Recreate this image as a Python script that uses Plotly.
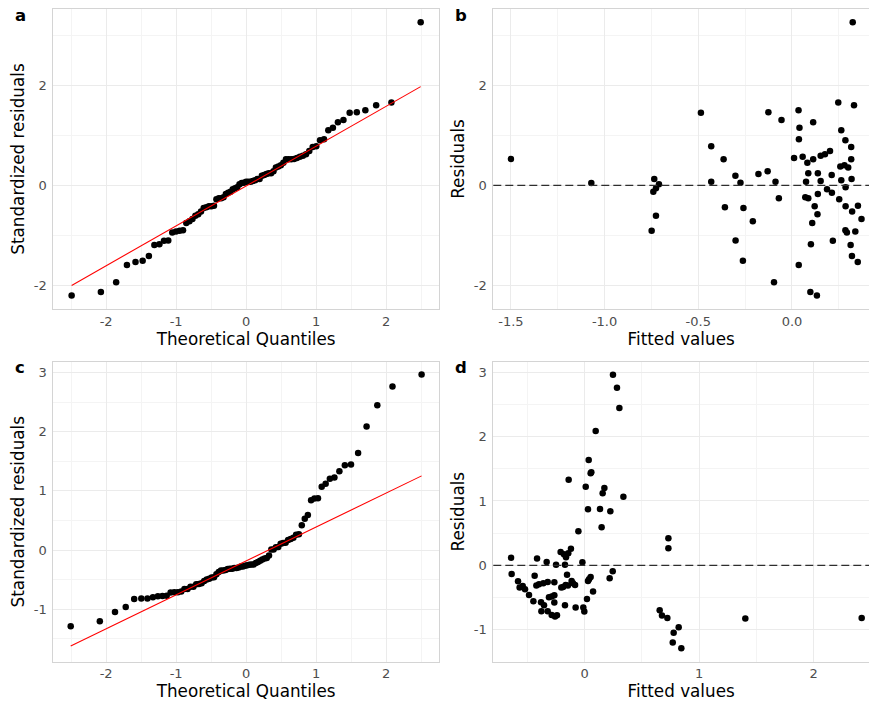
import numpy as np
import plotly.graph_objects as go
from statistics import NormalDist

# ---------------- data ----------------
# Model 1 (panels a & b): fitted values and residuals
fitted_1 = [-1.500, -1.071, -0.735, -0.710, -0.726, -0.740, -0.726, -0.749,
            -0.486, -0.431, -0.431, -0.365, -0.358, -0.302, -0.301, -0.275,
            -0.259, -0.262, -0.209, -0.179, -0.130, -0.126, -0.096, -0.088,
            -0.070, -0.056, 0.011, 0.035, 0.040, 0.037, 0.057, 0.082,
            0.087, 0.075, 0.071, 0.087, 0.036, 0.098, 0.133, 0.101,
            0.108, 0.121, 0.136, 0.138, 0.113, 0.113, 0.138, 0.153,
            0.153, 0.176, 0.203, 0.187, 0.212, 0.213, 0.218, 0.252,
            0.247, 0.263, 0.285, 0.258, 0.280, 0.300, 0.263, 0.286,
            0.316, 0.316, 0.318, 0.286, 0.321, 0.352, 0.371, 0.285,
            0.293, 0.338, 0.313, 0.320, 0.351, 0.331, 0.324]
resid_1 = [0.527, 0.047, 0.127, 0.020, -0.060, -0.127, -0.607, -0.907,
           1.453, 0.780, 0.070, 0.520, -0.440, 0.190, -1.105, 0.053,
           -0.452, -1.510, -0.720, 0.226, 0.280, 1.460, -1.940, 0.073,
           -0.260, 1.306, 0.546, 1.503, 1.152, 0.920, 0.570, 0.450,
           0.240, 0.073, -0.238, -0.258, -1.594, -2.134, -2.205, -1.180,
           -0.754, -0.420, -0.580, -0.174, 0.520, 1.263, 0.240, 0.086,
           0.590, 0.620, 0.684, -0.077, 0.207, -0.148, -1.110, -0.280,
           1.656, 1.103, 0.900, 0.378, 0.400, 0.356, 0.103, -0.037,
           0.767, 0.520, 0.126, -0.420, -0.524, -0.407, -0.673, -0.897,
           -0.944, -0.924, -1.194, -1.414, -1.534, 1.600, 3.260]

# Model 2 (panels c & d): fitted values and residuals
fitted_2 = [-0.643, -0.638, -0.582, -0.568, -0.541, -0.521, -0.486, -0.448,
            -0.437, -0.416, -0.422, -0.399, -0.361, -0.323, -0.381, -0.355,
            -0.378, -0.332, -0.312, -0.288, -0.265, -0.323, -0.288, -0.259,
            -0.242, -0.265, -0.250, -0.265, -0.210, -0.181, -0.163, -0.143,
            -0.120, -0.172, -0.172, -0.204, -0.189, -0.166, -0.146, -0.114,
            -0.102, -0.084, -0.154, -0.140, -0.079, -0.055, -0.020, -0.012,
            -0.003, 0.009, 0.020, 0.029, 0.035, 0.029, 0.038, 0.052,
            0.058, 0.052, 0.073, 0.096, 0.134, 0.148, 0.157, 0.172,
            0.218, 0.224, 0.245, 0.247, 0.282, 0.303, 0.338, 0.655,
            0.675, 0.722, 0.731, 0.731, 0.769, 0.777, 0.821, 0.844,
            1.403, 2.419]
resid_2 = [0.119, -0.135, -0.249, -0.347, -0.321, -0.373, -0.461, -0.560,
           -0.161, 0.104, -0.316, -0.295, -0.280, -0.259, -0.575, -0.622,
           -0.715, 0.052, -0.497, -0.487, -0.466, -0.715, -0.772, -0.798,
           -0.777, -0.264, 0.010, -0.580, 0.207, 0.171, 0.124, 0.187,
           0.259, 0.010, -0.622, -0.347, -0.337, -0.306, -0.316, -0.244,
           -0.280, -0.306, -0.145, 1.332, -0.658, 0.528, 0.047, -0.658,
           -0.720, 1.223, -0.523, 0.870, 1.637, -0.244, -0.218, 1.430,
           1.446, -0.181, -0.409, 2.088, 0.876, 0.591, 1.119, 1.202,
           -0.202, 0.839, -0.093, 2.964, 2.762, 2.446, 1.067, -0.699,
           -0.782, -0.819, 0.420, 0.264, -1.202, -1.047, -0.964, -1.290,
           -0.829, -0.819]

panel_labels = ["a", "b", "c", "d"]
qq_xlabel = "Theoretical Quantiles"
qq_ylabel = "Standardized residuals"
rv_xlabel = "Fitted values"
rv_ylabel = "Residuals"
ref_level = 0

# tick values / labels
qq_xticks = [-2, -1, 0, 1, 2]
qq_xticklabels = ["-2", "-1", "0", "1", "2"]
a_yticks = [-2, 0, 2]
a_yticklabels = ["-2", "0", "2"]
b_xticks = [-1.5, -1.0, -0.5, 0.0]
b_xticklabels = ["-1.5", "-1.0", "-0.5", "0.0"]
cd_yticks = [-1, 0, 1, 2, 3]
cd_yticklabels = ["-1", "0", "1", "2", "3"]
d_xticks = [0, 1, 2]
d_xticklabels = ["0", "1", "2"]


# ---------------- helpers ----------------
def qq(sample):
    s = np.sort(np.asarray(sample, dtype=float))
    n = len(s)
    a = 3 / 8 if n <= 10 else 0.5
    p = (np.arange(1, n + 1) - a) / (n + 1 - 2 * a)
    nd = NormalDist()
    theo = np.array([nd.inv_cdf(v) for v in p])
    y1, y3 = np.quantile(s, [0.25, 0.75])
    x1, x3 = nd.inv_cdf(0.25), nd.inv_cdf(0.75)
    slope = (y3 - y1) / (x3 - x1)
    inter = y1 - slope * x1
    lx = np.array([theo.min(), theo.max()])
    return theo, s, lx, inter + slope * lx


W, H = 869, 703
FONT = "DejaVu Sans"
GRID = "#ebebeb"
MINOR = "#f4f4f4"
BORDER = "#d4d4d4"


def dx(p0, p1):
    return [p0 / W, min(p1 / W, 1.0)]


def dy(p0, p1):
    return [1 - p1 / H, 1 - p0 / H]


def axis(domain, rng, tickvals, ticktext, minor_vals, title, anchor,
         mirror=True, standoff=4, is_y=False):
    d = dict(
        domain=domain, range=rng, anchor=anchor,
        tickmode="array", tickvals=tickvals, ticktext=ticktext,
        showgrid=True, gridcolor=GRID, gridwidth=1,
        minor=dict(tickmode="array", tickvals=minor_vals, showgrid=True,
                   gridcolor=MINOR, gridwidth=0.6, ticks=""),
        zeroline=False, showline=True, linecolor=BORDER, linewidth=1,
        mirror=mirror,
        tickfont=dict(family=FONT, size=13, color="#4d4d4d"),
        title=dict(text=title, font=dict(family=FONT, size=16.8, color="black"),
                   standoff=standoff),
    )
    if is_y:
        d.update(ticks="outside", ticklen=3, tickcolor="rgba(0,0,0,0)")
    else:
        d.update(ticks="")
    return d


fig = go.Figure()

qa_x, qa_y, la_x, la_y = qq(resid_1)
qc_x, qc_y, lc_x, lc_y = qq(resid_2)

pt = dict(color="black", size=6.5)

fig.add_trace(go.Scatter(x=qa_x, y=qa_y, mode="markers", marker=pt,
                         xaxis="x", yaxis="y", showlegend=False))
fig.add_trace(go.Scatter(x=la_x, y=la_y, mode="lines",
                         line=dict(color="red", width=1.1),
                         xaxis="x", yaxis="y", showlegend=False))

fig.add_trace(go.Scatter(x=fitted_1, y=resid_1, mode="markers", marker=pt,
                         xaxis="x2", yaxis="y2", showlegend=False))

fig.add_trace(go.Scatter(x=qc_x, y=qc_y, mode="markers", marker=pt,
                         xaxis="x3", yaxis="y3", showlegend=False))
fig.add_trace(go.Scatter(x=lc_x, y=lc_y, mode="lines",
                         line=dict(color="red", width=1.1),
                         xaxis="x3", yaxis="y3", showlegend=False))

fig.add_trace(go.Scatter(x=fitted_2, y=resid_2, mode="markers", marker=pt,
                         xaxis="x4", yaxis="y4", showlegend=False))

dash = dict(color="#2e2e2e", width=1.2, dash="8px,4px")
for xr, yr in (("x2 domain", "y2"), ("x4 domain", "y4")):
    fig.add_shape(type="line", xref=xr, yref=yr, x0=0, x1=1,
                  y0=ref_level, y1=ref_level, line=dash, layer="above")

top_row = (9, 309)
bot_row = (361.7, 661.7)
left_col = (53.3, 439)
right_col = (493.3, 869)

fig.update_layout(
    width=W, height=H,
    margin=dict(l=0, r=0, t=0, b=0),
    paper_bgcolor="white", plot_bgcolor="white",
    showlegend=False,
    xaxis=axis(dx(*left_col), [-2.755, 2.755], qq_xticks, qq_xticklabels,
               [-2.5, -1.5, -0.5, 0.5, 1.5, 2.5], qq_xlabel, "y"),
    yaxis=axis(dy(*top_row), [-2.474, 3.526], a_yticks, a_yticklabels,
               [-1, 1, 3], qq_ylabel, "x", is_y=True),
    xaxis2=axis(dx(*right_col), [-1.594, 0.411], b_xticks, b_xticklabels,
                [-1.25, -0.75, -0.25, 0.25], rv_xlabel, "y2"),
    yaxis2=axis(dy(*top_row), [-2.474, 3.526], a_yticks, a_yticklabels,
                [-1, 1, 3], rv_ylabel, "x2", mirror=False, is_y=True),
    xaxis3=axis(dx(*left_col), [-2.755, 2.755], qq_xticks, qq_xticklabels,
                [-2.5, -1.5, -0.5, 0.5, 1.5, 2.5], qq_xlabel, "y3"),
    yaxis3=axis(dy(*bot_row), [-1.887, 3.181], cd_yticks, cd_yticklabels,
                [-1.5, -0.5, 0.5, 1.5, 2.5], qq_ylabel, "x3", is_y=True),
    xaxis4=axis(dx(*right_col), [-0.798, 2.483], d_xticks, d_xticklabels,
                [-0.5, 0.5, 1.5], rv_xlabel, "y4"),
    yaxis4=axis(dy(*bot_row), [-1.499, 3.166], cd_yticks, cd_yticklabels,
                [-1.5, -0.5, 0.5, 1.5, 2.5], rv_ylabel, "x4", mirror=False,
                is_y=True),
)

label_pos = [(12.5, 15.5), (452.5, 15.5), (12.5, 368), (452.5, 368)]
for lab, (px, py) in zip(panel_labels, label_pos):
    fig.add_annotation(text="<b>%s</b>" % lab, xref="paper", yref="paper",
                       x=px / W, y=1 - py / H, xanchor="left", yanchor="middle",
                       showarrow=False,
                       font=dict(family=FONT, size=16.5, color="black"))

fig.write_html(
    "out.html",
    config={"displayModeBar": False},
    post_script="document.body.style.margin='0';document.body.style.padding='0';"
                "document.documentElement.style.overflow='hidden';",
)
